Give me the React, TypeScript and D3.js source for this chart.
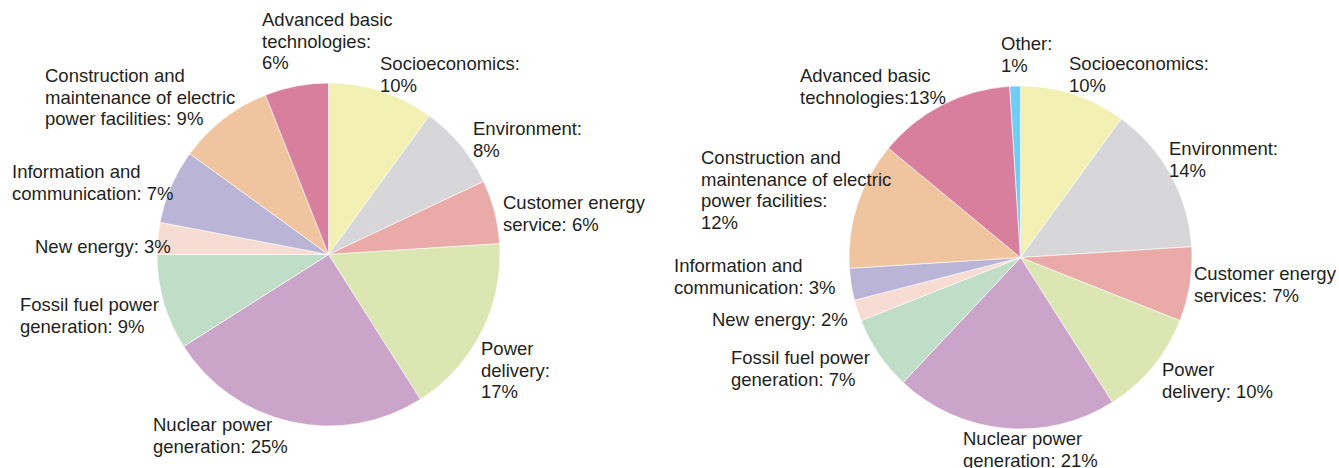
import React from "react";
import * as d3 from "d3";

const categories = [
  "Socioeconomics",
  "Environment",
  "Customer energy",
  "Power delivery",
  "Nuclear power generation",
  "Fossil fuel power generation",
  "New energy",
  "Information and communication",
  "Construction and maintenance of electric power facilities",
  "Advanced basic technologies",
  "Other",
];

const leftValues = [10, 8, 6, 17, 25, 9, 3, 7, 9, 6, 0];
const rightValues = [10, 14, 7, 10, 21, 7, 2, 3, 12, 13, 1];

const leftLabels = [
  ["Socioeconomics:", "10%"],
  ["Environment:", "8%"],
  ["Customer energy", "service: 6%"],
  ["Power", "delivery:", "17%"],
  ["Nuclear power", "generation: 25%"],
  ["Fossil fuel power", "generation: 9%"],
  ["New energy: 3%"],
  ["Information and", "communication: 7%"],
  ["Construction and", "maintenance of electric", "power facilities: 9%"],
  ["Advanced basic", "technologies:", "6%"],
  [],
];

const rightLabels = [
  ["Socioeconomics:", "10%"],
  ["Environment:", "14%"],
  ["Customer energy", "services: 7%"],
  ["Power", "delivery: 10%"],
  ["Nuclear power", "generation: 21%"],
  ["Fossil fuel power", "generation: 7%"],
  ["New energy: 2%"],
  ["Information and", "communication: 3%"],
  ["Construction and", "maintenance of electric", "power facilities:", "12%"],
  ["Advanced basic", "technologies:13%"],
  ["Other:", "1%"],
];

const colors = [
  "#f3f0b4",
  "#d7d7d9",
  "#e9aaa8",
  "#dbe6b2",
  "#cba5c9",
  "#c0ddc7",
  "#f7dcd4",
  "#bab4d6",
  "#efc49f",
  "#d97f9e",
  "#6fcef5",
];

// layout: label anchor (left x, first baseline y) in page coords
const leftLabelPos: [number, number][] = [
  [380, 70], [473, 135], [503, 209], [481, 355], [153, 431],
  [20, 311], [35, 253], [12, 178], [45, 82], [262, 26], [0, 0],
];
const rightLabelPos: [number, number][] = [
  [1069, 70], [1169, 155], [1194, 280], [1162, 376], [963, 445],
  [731, 364], [712, 326], [674, 272], [701, 164], [800, 82], [1001, 50],
];

const W = 1339;
const H = 468;
const R = 171.5;
const LINE = 21.5;

function Pie({ values, labels, pos, cx, cy }: {
  values: number[]; labels: string[][]; pos: [number, number][]; cx: number; cy: number;
}) {
  const data = categories.map((c, i) => ({ c, v: values[i], i }));
  const pie = d3.pie<any>().value((d) => d.v).sort(null).startAngle(0).endAngle(2 * Math.PI);
  const arc = d3.arc<any>().innerRadius(0).outerRadius(R);
  const arcs = pie(data);
  return (
    <g>
      <g transform={`translate(${cx},${cy})`}>
        {arcs.filter((a) => a.data.v > 0).map((a) => (
          <path key={a.data.c} d={arc(a) as string} fill={colors[a.data.i]} stroke="#ffffff" strokeWidth={0.6} />
        ))}
      </g>
      {labels.map((lines, i) =>
        lines.length ? (
          <text key={i} x={pos[i][0]} y={pos[i][1]} fill="#231f20" fontSize={18.5} fontFamily="'Liberation Sans', Arial, Helvetica, sans-serif">
            {lines.map((l, j) => (
              <tspan key={j} x={pos[i][0]} y={pos[i][1] + j * LINE}>{l}</tspan>
            ))}
          </text>
        ) : null
      )}
    </g>
  );
}

export default function App() {
  return (
    <svg width={W} height={H} style={{ position: "absolute", left: 0, top: 0, background: "#fff" }}>
      <Pie values={leftValues} labels={leftLabels} pos={leftLabelPos} cx={328.5} cy={254.5} />
      <Pie values={rightValues} labels={rightLabels} pos={rightLabelPos} cx={1020.5} cy={257.5} />
    </svg>
  );
}
